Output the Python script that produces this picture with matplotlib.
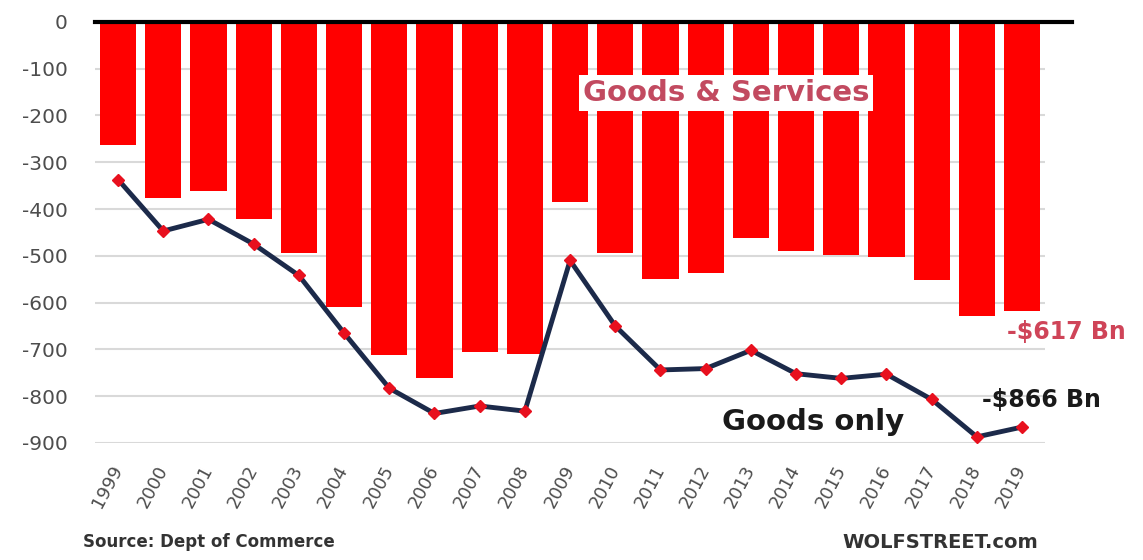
import matplotlib.pyplot as plt
import numpy as np

# US trade balance, $ billions
years = [str(y) for y in range(1999, 2020)]
goods_services = [-263, -377, -362, -421, -494, -609, -712, -761, -705, -709, -384,
                  -495, -549, -537, -462, -490, -499, -502, -552, -628, -617]
goods_only = [-337, -447, -422, -475, -542, -665, -783, -837, -821, -832, -510,
              -650, -744, -741, -702, -752, -762, -753, -807, -887, -866]
yticks = [0, -100, -200, -300, -400, -500, -600, -700, -800, -900]

x = np.arange(len(years))

fig = plt.figure(figsize=(11.43, 5.6), dpi=100)
ax = fig.add_axes([0.0835, 0.209, 0.8305, 0.752])

ax.grid(axis='y', color='#d9d9d9', linewidth=1.5, zorder=0)
ax.bar(x, goods_services, width=0.8, color='#ff0000', zorder=2)
ax.plot(x, goods_only, color='#1c2a4a', linewidth=3.5, zorder=4)
ax.plot(x, goods_only, linestyle='none', marker='D', markersize=6.5,
        color='#e8101e', zorder=5)

# zero line runs a bit past the last bar
ax.axhline(0, xmin=0, xmax=1.029, color='black', linewidth=3, clip_on=False, zorder=6)

ax.set_xlim(-0.5, len(years) - 0.5)
ax.set_ylim(-900, 0)
ax.set_yticks(yticks)
ax.set_yticklabels([str(v) for v in yticks], fontsize=14.5, color='#4d4d4d')
ax.set_xticks(x)
ax.set_xticklabels(years, rotation=62, ha='right', va='center',
                   rotation_mode='anchor', fontsize=13, color='#4d4d4d')
ax.tick_params(axis='y', length=0, pad=20)
ax.tick_params(axis='x', length=0, pad=17)
for s in ax.spines.values():
    s.set_visible(False)

ax.text(13.45, -152, 'Goods & Services', fontsize=21, fontweight='bold',
        color='#c24a60', ha='center', va='center', zorder=7,
        bbox=dict(facecolor='white', edgecolor='none', pad=3))
ax.text(15.38, -855, 'Goods only', fontsize=21, fontweight='bold',
        color='#1a1a1a', ha='center', va='center', zorder=7)
ax.text(20.42, -808, f'-${abs(goods_only[-1])} Bn', fontsize=17, fontweight='bold',
        color='#1a1a1a', ha='center', va='center', clip_on=False)
ax.text(20.97, -663, f'-${abs(goods_services[-1])} Bn', fontsize=17, fontweight='bold',
        color='#cf4458', ha='center', va='center', clip_on=False)

fig.text(0.0726, 0.032, 'Source: Dept of Commerce', fontsize=12, fontweight='bold',
         color='#333333', ha='left', va='center')
fig.text(0.908, 0.032, 'WOLFSTREET.com', fontsize=14, fontweight='bold',
         color='#333333', ha='right', va='center')

fig.savefig('out.png', dpi=100)
